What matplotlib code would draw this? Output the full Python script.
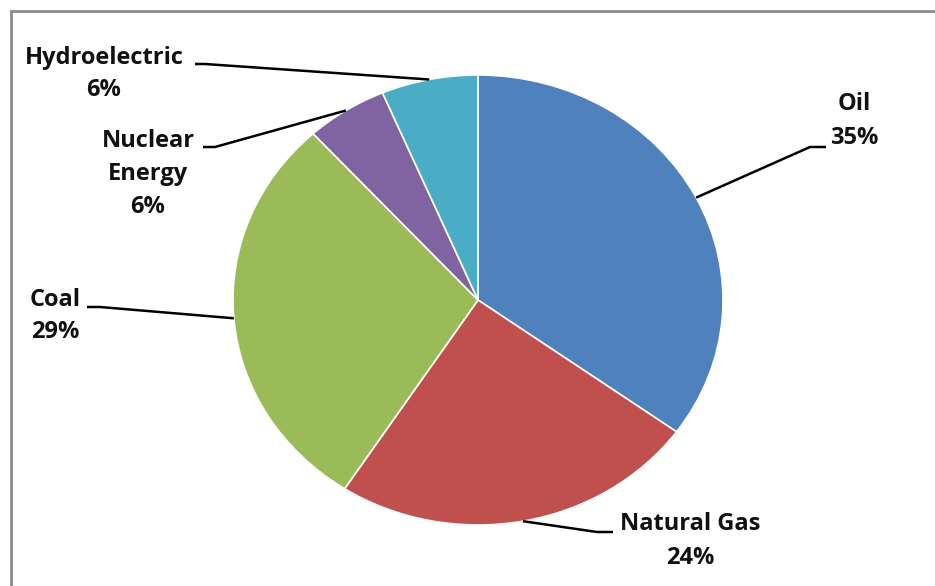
import numpy as np
import matplotlib.pyplot as plt
from matplotlib.patches import Rectangle

# Energy mix shares (%), clockwise from 12 o'clock
sources = ["Oil", "Natural Gas", "Coal", "Nuclear Energy", "Hydroelectric"]
shares = [35.1, 24.3, 29.2, 5.4, 6.4]
label_text = ["Oil\n35%", "Natural Gas\n24%", "Coal\n29%",
              "Nuclear\nEnergy\n6%", "Hydroelectric\n6%"]
colors = ["#4F81BD", "#C0504D", "#9BBB59", "#8064A2", "#4BACC6"]

W, H = 935, 586
cx, cy = 478, 300          # pie centre (pixels from top-left)
rx, ry = 245, 225          # the picture is slightly squashed vertically

fig = plt.figure(figsize=(W / 100, H / 100), dpi=100)
ax = fig.add_axes([0, 0, 1, 1])

wedges, _ = ax.pie(shares, colors=colors, startangle=90, counterclock=False,
                   radius=1.0, center=(0, 0), frame=True,
                   wedgeprops=dict(edgecolor="white", linewidth=1.2))
ax.set_aspect("auto")
ax.set_xlim(-cx / rx, (W - cx) / rx)
ax.set_ylim(-(H - cy) / ry, cy / ry)
ax.axis("off")


def px(x, y):
    """pixel position (from top-left) -> data coords"""
    return (x - cx) / rx, (cy - y) / ry


# label centre positions (pixels) and leader-line elbows
label_pos = [(854, 121), (690, 541), (55, 316), (148, 174), (104, 74)]
elbows = [[(826, 147), (810, 147)],
          [(613, 532), (597, 532)],
          [(87, 307), (100, 307)],
          [(203, 147), (215, 147)],
          [(195, 64), (205, 64)]]

for w, txt, pos, elb in zip(wedges, label_text, label_pos, elbows):
    ang = np.deg2rad((w.theta1 + w.theta2) / 2)
    ex, ey = np.cos(ang), np.sin(ang)
    pts = [px(*p) for p in elb] + [(ex, ey)]
    ax.plot([p[0] for p in pts], [p[1] for p in pts], color="black", lw=1.8,
            solid_capstyle="butt")
    tx, ty = px(*pos)
    ax.text(tx, ty, txt, ha="center", va="center", fontsize=17,
            fontweight="bold", family=["Open Sans", "DejaVu Sans"],
            linespacing=1.5, color="#111111")

# outer chart frame (only top and left edges fall inside the image)
fig.patches.append(Rectangle((11 / W, -0.05), 1.0, 1 - 11 / H + 0.05,
                             transform=fig.transFigure, fill=False,
                             edgecolor="#8c8c8c", lw=2))

fig.savefig("out.png", dpi=100)
